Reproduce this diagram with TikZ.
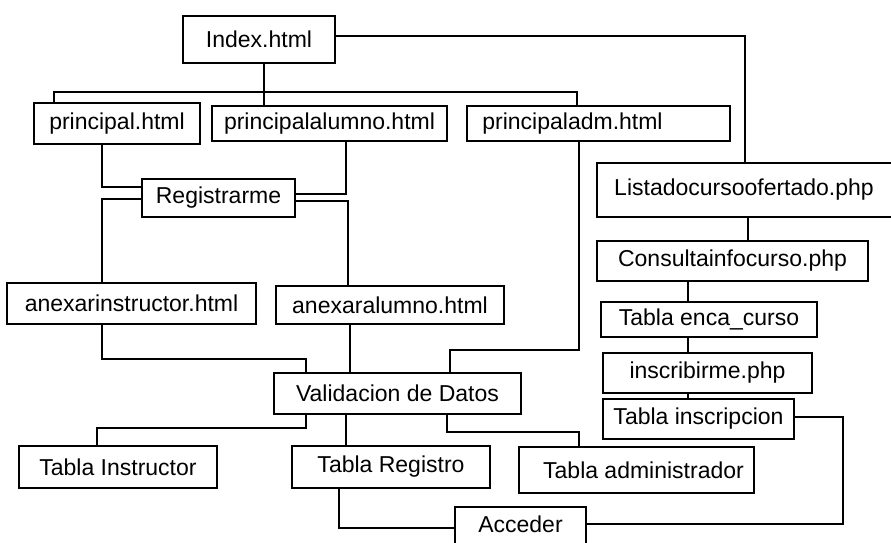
\documentclass[tikz,border=0pt]{standalone}
\usepackage{fontspec}
\setmainfont{Liberation Sans}
\begin{document}
\begin{tikzpicture}[x=1pt,y=-1pt,
  box/.style={draw, line width=1.5pt, inner sep=0pt, fill=white,
    font=\fontsize{23}{27}\selectfont},
  wire/.style={line width=1.5pt}]
\useasboundingbox (0,0) rectangle (891,542);
\clip (0,0) rectangle (891,542);
\fill[white] (0,0) rectangle (891,542);

% nodes
\node[box, minimum width=152pt, minimum height=47pt] (idx) at (259,39.5) {Index.html};
\node[box, minimum width=166pt, minimum height=41pt] (prin) at (117,123.5) {principal.html};
\node[box, minimum width=235pt, minimum height=35pt] (pal) at (329.5,123.5) {principalalumno.html};
\node[box, minimum width=263pt, minimum height=35pt] (padm) at (598.5,123.5) {principaladm.html\hspace*{52pt}};
\node[box, minimum width=308pt, minimum height=54pt] (lista) at (751,190) {Listadocursoofertado.php\hspace*{14pt}};
\node[box, minimum width=153pt, minimum height=38pt] (reg) at (218.5,198) {Registrarme};
\node[box, minimum width=249pt, minimum height=41pt] (ainst) at (131.5,303.5) {anexarinstructor.html};
\node[box, minimum width=228pt, minimum height=38pt] (aalum) at (390,305) {anexaralumno.html};
\node[box, minimum width=271pt, minimum height=40pt] (cons) at (732.5,261) {Consultainfocurso.php};
\node[box, minimum width=216pt, minimum height=35pt] (enca) at (709,319.5) {Tabla enca\_curso};
\node[box, minimum width=209pt, minimum height=40pt] (insc) at (707.5,373) {inscribirme.php};
\node[box, minimum width=191pt, minimum height=40pt] (tins) at (698.5,419) {Tabla inscripcion};
\node[box, minimum width=247pt, minimum height=41pt] (val) at (397.5,393.5) {Validacion de Datos};
\node[box, minimum width=198pt, minimum height=42pt] (tinstr) at (118,467) {Tabla Instructor};
\node[box, minimum width=198pt, minimum height=42pt] (treg) at (391,467) {Tabla Registro};
\node[box, minimum width=235pt, minimum height=46pt] (tadm) at (636.5,470) {\hspace*{14pt}Tabla administrador};
\node[box, minimum width=131pt, minimum height=40pt] (acc) at (520.5,527) {\raisebox{6pt}{Acceder}};

% connectors
\draw[wire] (idx.south -| 264,0) -- (pal.north -| 264,0);
\draw[wire] (prin.north -| 54,0) |- (577,92) -- (padm.north -| 577,0);
\draw[wire] (idx.east |- 0,36) -| (lista.north -| 745,0);
\draw[wire] (prin.south -| 102,0) |- (reg.west |- 0,187);
\draw[wire] (pal.south -| 346,0) |- (reg.east |- 0,194);
\draw[wire] (reg.west |- 0,199) -| (ainst.north -| 102,0);
\draw[wire] (reg.east |- 0,201) -| (aalum.north -| 348,0);
\draw[wire] (ainst.south -| 102,0) |- (306,359) -- (val.north -| 306,0);
\draw[wire] (aalum.south -| 350,0) -- (val.north -| 350,0);
\draw[wire] (padm.south -| 579,0) |- (450,350) -- (val.north -| 450,0);
\draw[wire] (val.south -| 306,0) |- (97,428) -- (tinstr.north -| 97,0);
\draw[wire] (val.south -| 346,0) -- (treg.north -| 346,0);
\draw[wire] (val.south -| 447,0) |- (579,432) -- (tadm.north -| 579,0);
\draw[wire] (treg.south -| 339,0) |- (acc.west |- 0,528);
\draw[wire] (acc.east |- 0,524) -| (843,417) -- (tins.east |- 0,417);
\draw[wire] (lista.south -| 748,0) -- (cons.north -| 748,0);
\draw[wire] (cons.south -| 688,0) -- (enca.north -| 688,0);
\draw[wire] (enca.south -| 688,0) -- (insc.north -| 688,0);
\draw[wire] (insc.south -| 688,0) -- (tins.north -| 688,0);
\end{tikzpicture}
\end{document}
